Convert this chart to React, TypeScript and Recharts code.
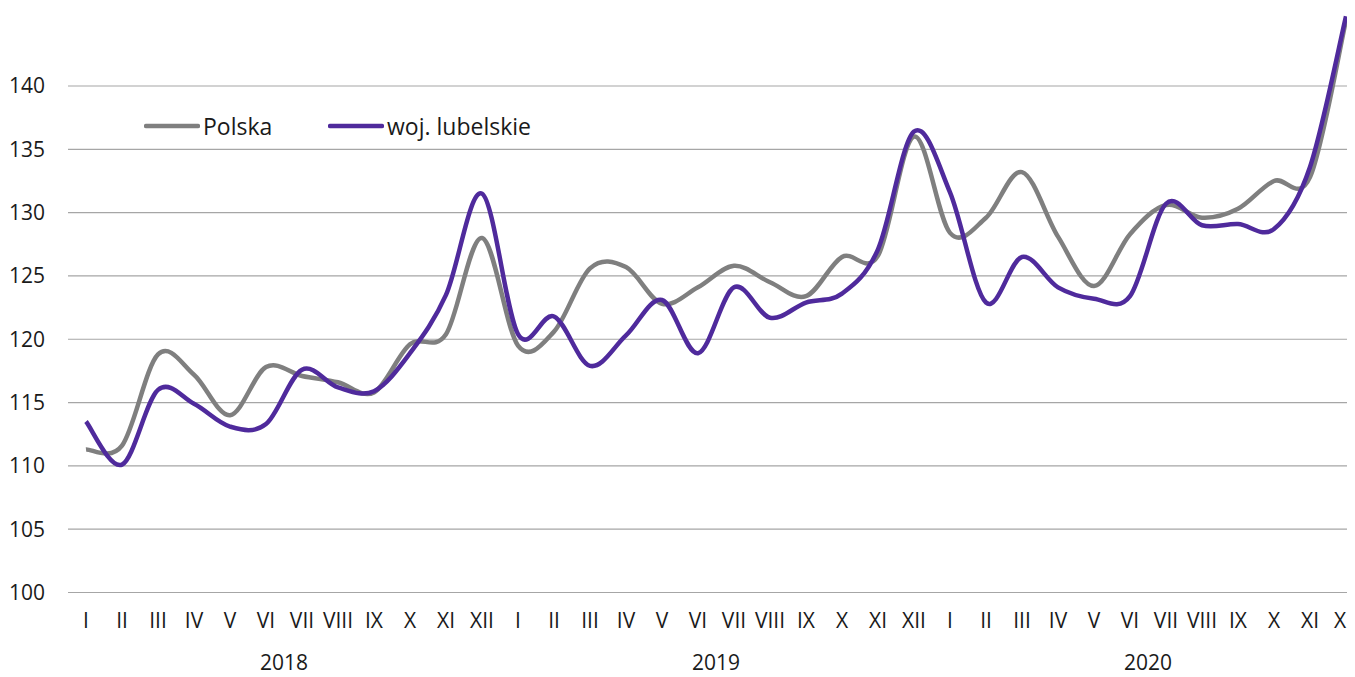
import React from "react"
import { LineChart, Line, XAxis, YAxis, CartesianGrid, Legend } from "recharts"

// Month labels (roman numerals) and years on the second axis row
const monthLabels = ["I", "II", "III", "IV", "V", "VI", "VII", "VIII", "IX", "X", "XI", "XII"]
const years = ["2018", "2019", "2020"]

// Index values
const polska = [
  111.3, 111.6, 118.8, 117.2, 114.0, 117.8, 117.1, 116.6, 115.8, 119.6, 120.4, 128.0,
  119.5, 120.6, 125.6, 125.7, 122.8, 124.1, 125.8, 124.5, 123.4, 126.5, 126.6, 136.0,
  128.4, 129.6, 133.2, 128.1, 124.2, 128.3, 130.6, 129.6, 130.3, 132.5, 132.8, 145.2,
]
const lubelskie = [
  113.5, 110.1, 116.0, 114.9, 113.1, 113.3, 117.6, 116.2, 115.9, 118.9, 123.5, 131.5,
  120.4, 121.8, 117.9, 120.3, 123.1, 118.9, 124.1, 121.7, 122.9, 123.6, 127.1, 136.4,
  131.6, 122.9, 126.5, 124.1, 123.2, 123.4, 130.7, 129.0, 129.1, 128.7, 133.6, 145.5,
]

const yTicks = [100, 105, 110, 115, 120, 125, 130, 135, 140]

const GREY = "#7f7f7f"
const PURPLE = "#4f2a9c"
const FONT = "'Open Sans', 'Noto Sans', sans-serif"

const data = polska.map((v, i) => ({
  key: i,
  month: monthLabels[i % 12],
  year: years[Math.floor(i / 12)],
  polska: v,
  lubelskie: lubelskie[i],
}))

// year label sits between VI and VII of each year
const yearTicks = years.map((_, k) => k * 12 + 5)

// Excel-like smoothed line (Catmull-Rom through every point)
const smoothCurve = (context: any) => {
  let xs: number[] = []
  let ys: number[] = []
  return {
    areaStart() {},
    areaEnd() {},
    lineStart() {
      xs = []
      ys = []
    },
    point(x: number, y: number) {
      xs.push(+x)
      ys.push(+y)
    },
    lineEnd() {
      const n = xs.length
      if (!n) return
      context.moveTo(xs[0], ys[0])
      for (let i = 0; i < n - 1; i++) {
        const p = Math.max(i - 1, 0)
        const q = Math.min(i + 2, n - 1)
        context.bezierCurveTo(
          xs[i] + (xs[i + 1] - xs[p]) / 6,
          ys[i] + (ys[i + 1] - ys[p]) / 6,
          xs[i + 1] - (xs[q] - xs[i]) / 6,
          ys[i + 1] - (ys[q] - ys[i]) / 6,
          xs[i + 1],
          ys[i + 1]
        )
      }
    },
  }
}

const legendItems = [
  { name: "Polska", color: GREY, width: 184 },
  { name: "woj. lubelskie", color: PURPLE, width: 220 },
]

function LegendContent() {
  return (
    <div style={{ display: "flex", alignItems: "center", fontFamily: FONT, fontSize: 23, color: "#1a1a1a" }}>
      {legendItems.map((item) => (
        <div key={item.name} style={{ display: "flex", alignItems: "center", width: item.width }}>
          <svg width={56} height={30}>
            <line x1={2} y1={15} x2={54} y2={15} stroke={item.color} strokeWidth={4.5} strokeLinecap="round" />
          </svg>
          <span style={{ marginLeft: 3, whiteSpace: "nowrap" }}>{item.name}</span>
        </div>
      ))}
    </div>
  )
}

export default function App() {
  const tickStyle = { fontSize: 21, fill: "#1a1a1a", fontFamily: FONT }
  return (
    <div style={{ width: 1347, height: 669, overflow: "hidden", background: "#fff" }}>
      <LineChart width={1356} height={669} data={data} margin={{ top: 2, right: 0, bottom: 0.5, left: 0 }}>
        <CartesianGrid vertical={false} stroke="#a6a6a6" strokeWidth={1.2} horizontalValues={yTicks} />
        <XAxis
          dataKey="key"
          scale="band"
          tickFormatter={(i: number) => data[i]?.month ?? ""}
          interval={0}
          axisLine={false}
          tickLine={false}
          tickMargin={15}
          height={44}
          tick={tickStyle}
        />
        <XAxis
          xAxisId="year"
          dataKey="key"
          scale="band"
          ticks={yearTicks}
          tickFormatter={(i: number) => data[i]?.year ?? ""}
          interval={0}
          axisLine={false}
          tickLine={false}
          tickMargin={13}
          height={40}
          tick={{ ...tickStyle, dx: 18 }}
        />
        <YAxis
          domain={[100, 146]}
          ticks={yTicks}
          interval={0}
          axisLine={false}
          tickLine={false}
          tickMargin={17}
          width={60}
          tick={tickStyle}
        />
        <Legend
          layout="horizontal"
          verticalAlign="middle"
          align="center"
          content={<LegendContent />}
          wrapperStyle={{ top: 102, left: 136, width: "auto" }}
        />
        <Line
          dataKey="polska"
          name="Polska"
          type={smoothCurve as any}
          stroke={GREY}
          strokeWidth={4.5}
          dot={false}
          activeDot={false}
          isAnimationActive={false}
        />
        <Line
          dataKey="lubelskie"
          name="woj. lubelskie"
          type={smoothCurve as any}
          stroke={PURPLE}
          strokeWidth={4.5}
          dot={false}
          activeDot={false}
          isAnimationActive={false}
        />
      </LineChart>
    </div>
  )
}
